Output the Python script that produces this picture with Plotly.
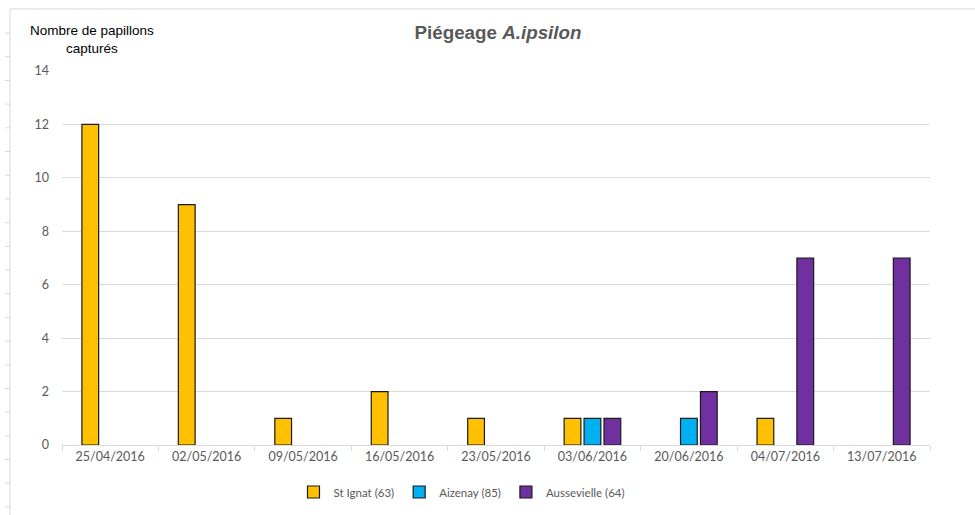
import plotly.graph_objects as go

dates = ["25/04/2016", "02/05/2016", "09/05/2016", "16/05/2016", "23/05/2016",
         "03/06/2016", "20/06/2016", "04/07/2016", "13/07/2016"]
st_ignat = [12, 9, 1, 2, 1, 1, 0, 1, 0]
aizenay = [0, 0, 0, 0, 0, 1, 1, 0, 0]
aussevielle = [0, 0, 0, 0, 0, 1, 2, 7, 7]

series_names = ["St Ignat (63)", "Aizenay (85)", "Aussevielle (64)"]
series_colors = ["#FFC000", "#00B0F0", "#7030A0"]
series_values = [st_ignat, aizenay, aussevielle]

fig = go.Figure()
for name, vals, col in zip(series_names, series_values, series_colors):
    fig.add_trace(go.Bar(
        x=dates, y=[v if v else None for v in vals], name=name,
        marker=dict(color=col, line=dict(color="#1a1a1a", width=1.2)),
    ))

W, H = 975, 515
ml, mr, mt, mb = 62, 45, 71, 70
pw, ph = W - ml - mr, H - mt - mb

def px(x):
    return (x - ml) / pw

def py(y):
    return 1 - (y - mt) / ph

shapes = [
    dict(type="line", xref="paper", yref="paper",
         x0=px(10), x1=px(W), y0=py(9), y1=py(9),
         line=dict(color="#D9D9D9", width=1)),
    dict(type="line", xref="paper", yref="paper",
         x0=px(10), x1=px(10), y0=py(H), y1=py(9),
         line=dict(color="#D9D9D9", width=1)),
]
yy = 33.0
while yy < H:
    shapes.append(dict(type="line", xref="paper", yref="paper",
                       x0=px(5), x1=px(10), y0=py(yy), y1=py(yy),
                       line=dict(color="#D9D9D9", width=1)))
    yy += 23.7

fig.update_layout(
    width=W, height=H,
    margin=dict(l=ml, r=mr, t=mt, b=mb, autoexpand=False),
    paper_bgcolor="white", plot_bgcolor="white",
    barmode="group", bargap=0.38, bargroupgap=0.16,
    title=dict(text="<b>Piégeage <i>A.ipsilon</i></b>", x=498 / W,
               xanchor="center", y=1 - 32 / H, yanchor="middle",
               font=dict(family="Liberation Sans, Arial", size=18.8, color="#595959")),
    font=dict(family="Lato, Liberation Sans", color="#595959"),
    xaxis=dict(type="category", showgrid=False, showline=True, linecolor="#D9D9D9",
               linewidth=1, ticks="outside", tickson="boundaries", ticklen=5,
               tickcolor="#D9D9D9", tickfont=dict(size=12.5, color="#595959"),
               automargin=False),
    yaxis=dict(range=[0, 14], dtick=2, showgrid=True, gridcolor="#D9D9D9", gridwidth=1,
               zeroline=False, showline=False, ticks="", ticklabelstandoff=12,
               tickfont=dict(size=12.5, color="#595959"), automargin=False),
    legend=dict(orientation="h", x=px(462), xanchor="center", y=py(492),
                yanchor="middle", font=dict(size=11.5, color="#595959"),
                itemwidth=30, traceorder="normal"),
    showlegend=True,
    shapes=shapes,
    annotations=[dict(text="Nombre de papillons<br>capturés", xref="paper", yref="paper",
                      x=px(92), y=py(40),
                      xanchor="center", yanchor="middle", showarrow=False, align="center",
                      font=dict(family="Liberation Sans, Arial", size=13.5, color="#000000"))],
)

fig.write_html("out.html", config={"displayModeBar": False},
               post_script="document.body.style.margin='0';document.body.style.overflow='hidden';")
